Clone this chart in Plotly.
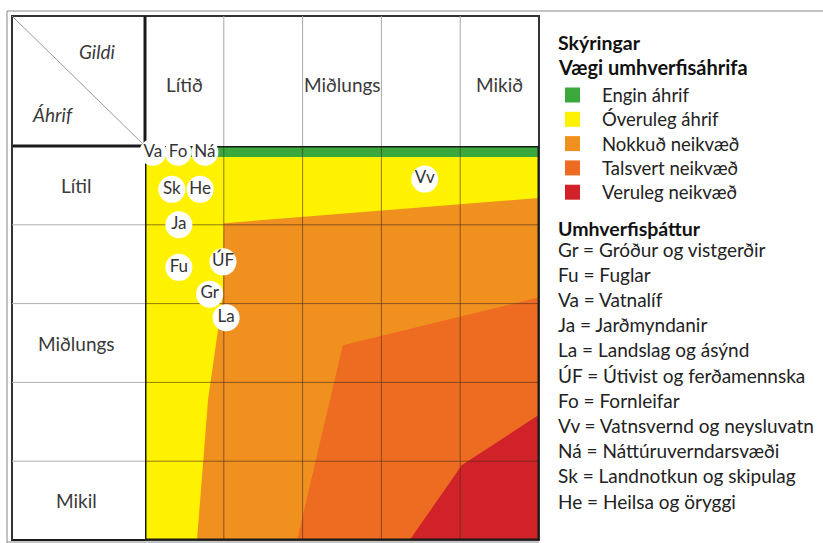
import plotly.graph_objects as go

W, H = 823, 543

# ---------------- data ----------------
gildi_labels = ["Lítið", "", "Miðlungs", "", "Mikið"]      # columns (value)
ahrif_labels = ["Lítil", "", "Miðlungs", "", "Mikil"]      # rows (impact)

factor_codes = ["Va", "Fo", "Ná", "Sk", "He", "Ja", "Fu", "ÚF", "Gr", "La", "Vv"]
factor_gildi = [0.10, 0.42, 0.76, 0.34, 0.70, 0.43, 0.43, 0.99, 0.82, 1.03, 3.55]
factor_ahrif = [0.08, 0.08, 0.08, 0.55, 0.55, 1.00, 1.54, 1.47, 1.88, 2.18, 0.42]

weight_names = ["Engin áhrif", "Óveruleg áhrif", "Nokkuð neikvæð",
                "Talsvert neikvæð", "Veruleg neikvæð"]
weight_colors = ["#3aa83c", "#fff200", "#f0911f", "#ee6b22", "#d12229"]

factor_legend = [
    "Gr = Gróður og vistgerðir",
    "Fu = Fuglar",
    "Va = Vatnalíf",
    "Ja = Jarðmyndanir",
    "La = Landslag og ásýnd",
    "ÚF = Útivist og ferðamennska",
    "Fo = Fornleifar",
    "Vv = Vatnsvernd og neysluvatn",
    "Ná = Náttúruverndarsvæði",
    "Sk = Landnotkun og skipulag",
    "He = Heilsa og öryggi",
]

# zone polygons in grid units (gildi, ahrif)
zone_yellow_x = [0, 5, 5, 0, 0]
zone_yellow_y = [0, 0, 5, 5, 0]
zone_green_x = [0, 5, 5, 0, 0]
zone_green_y = [0, 0, 0.14, 0.14, 0]
zone_orange_x = [1.0, 5, 5, 0.66, 0.80, 0.99, 1.0]
zone_orange_y = [0.98, 0.66, 5, 5, 3.22, 1.89, 0.98]
zone_talsvert_x = [5, 2.51, 1.93, 5, 5]
zone_talsvert_y = [1.92, 2.53, 5, 5, 1.92]
zone_red_x = [5, 4.02, 3.36, 5, 5]
zone_red_y = [3.41, 4.05, 5, 5, 3.41]

# ---------------- layout helpers ----------------
def PX(x):
    return x / W

def PY(y):
    return 1 - y / H

X0, X1, Y0, Y1 = 145, 539, 146, 540   # data area in pixels
TX0, TY0 = 12, 16                      # table top-left
FONT = "Lato"
TXT = "#3a3a3a"

fig = go.Figure()

zones = [
    (zone_yellow_x, zone_yellow_y, weight_colors[1]),
    (zone_green_x, zone_green_y, weight_colors[0]),
    (zone_orange_x, zone_orange_y, weight_colors[2]),
    (zone_talsvert_x, zone_talsvert_y, weight_colors[3]),
    (zone_red_x, zone_red_y, weight_colors[4]),
]
for zx, zy, c in zones:
    fig.add_trace(go.Scatter(x=zx, y=zy, mode="lines", fill="toself",
                             fillcolor=c, line=dict(width=0, color=c),
                             hoverinfo="skip", showlegend=False))

# grid lines inside data area
gx, gy = [], []
for i in range(1, 5):
    gx += [i, i, None]
    gy += [0, 5, None]
    gx += [0, 5, None]
    gy += [i, i, None]
fig.add_trace(go.Scatter(x=gx, y=gy, mode="lines",
                         line=dict(color="rgba(70,45,25,0.6)", width=1),
                         hoverinfo="skip", showlegend=False))

# borders of data area
fig.add_trace(go.Scatter(x=[5, 0, 0, 5, 5], y=[0, 0, 5, 5, 0], mode="lines",
                         line=dict(color="#1a1a1a", width=3),
                         cliponaxis=False, hoverinfo="skip", showlegend=False))

# factor labels
fig.add_trace(go.Scatter(
    x=factor_gildi, y=factor_ahrif, mode="markers+text", text=factor_codes,
    textposition="middle center",
    textfont=dict(family=FONT, size=17, color="#333333"),
    marker=dict(size=27, color="white", line=dict(width=0)),
    cliponaxis=False, hoverinfo="skip", showlegend=False))

shapes = []
# outer frame (double line)
shapes.append(dict(type="line", xref="paper", yref="paper",
                   x0=PX(7), x1=PX(W + 5), y0=PY(11), y1=PY(11),
                   line=dict(color="#888888", width=1)))
shapes.append(dict(type="line", xref="paper", yref="paper",
                   x0=PX(7), x1=PX(7), y0=PY(11), y1=PY(H + 5),
                   line=dict(color="#888888", width=1)))
shapes.append(dict(type="line", xref="paper", yref="paper",
                   x0=PX(7), x1=PX(X1), y0=PY(542), y1=PY(542),
                   line=dict(color="#888888", width=1)))
# table box
shapes.append(dict(type="rect", xref="paper", yref="paper",
                   x0=PX(TX0), x1=PX(X1), y0=PY(Y1), y1=PY(TY0),
                   line=dict(color="#333333", width=2), layer="below"))
# header separators (thick)
shapes.append(dict(type="line", xref="paper", yref="paper",
                   x0=PX(X0), x1=PX(X0), y0=PY(TY0), y1=PY(Y0),
                   line=dict(color="#1a1a1a", width=3), layer="below"))
shapes.append(dict(type="line", xref="paper", yref="paper",
                   x0=PX(TX0), x1=PX(X0), y0=PY(Y0), y1=PY(Y0),
                   line=dict(color="#1a1a1a", width=3), layer="below"))
shapes.append(dict(type="line", xref="paper", yref="paper",
                   x0=PX(TX0), x1=PX(X0), y0=PY(Y1), y1=PY(Y1),
                   line=dict(color="#1a1a1a", width=2), layer="below"))
shapes.append(dict(type="line", xref="paper", yref="paper",
                   x0=PX(TX0), x1=PX(TX0), y0=PY(Y1), y1=PY(TY0),
                   line=dict(color="#333333", width=2), layer="below"))
# diagonal in corner cell
shapes.append(dict(type="line", xref="paper", yref="paper",
                   x0=PX(TX0), x1=PX(X0), y0=PY(TY0), y1=PY(Y0),
                   line=dict(color="#9a9a9a", width=1), layer="below"))
# header column lines and row-label lines (thin gray)
for i in range(1, 5):
    shapes.append(dict(type="line", xref="x", yref="paper",
                       x0=i, x1=i, y0=PY(Y0), y1=PY(TY0),
                       line=dict(color="#a8a8a8", width=1), layer="below"))
    shapes.append(dict(type="line", xref="paper", yref="y",
                       x0=PX(TX0), x1=PX(X0), y0=i, y1=i,
                       line=dict(color="#b0b0b0", width=1), layer="below"))

annotations = []

def ann(x, y, text, size, color=TXT, xref="paper", yref="paper",
        xanchor="center"):
    annotations.append(dict(x=x, y=y, xref=xref, yref=yref, text=text,
                            xanchor=xanchor, yanchor="middle",
                            showarrow=False,
                            font=dict(family=FONT, size=size, color=color)))

for i, lab in enumerate(gildi_labels):
    if lab:
        ann(i + 0.5, PY(84), lab, 19, xref="x")
for i, lab in enumerate(ahrif_labels):
    if lab:
        ann(PX(76), i + 0.5, lab, 19, yref="y")
ann(PX(97), PY(52), "<i>Gildi</i>", 19)
ann(PX(53), PY(114), "<i>Áhrif</i>", 19)

# legend
LX = 556
ann(PX(LX), PY(42), "<b>Skýringar</b>", 19.5, "#111111", xanchor="left")
ann(PX(LX), PY(67), "<b>Vægi umhverfisáhrifa</b>", 20, "#111111",
    xanchor="left")
for k, (name, col) in enumerate(zip(weight_names, weight_colors)):
    yc = 95 + k * 24.3
    shapes.append(dict(type="rect", xref="paper", yref="paper",
                       x0=PX(565), x1=PX(580), y0=PY(yc + 7.5), y1=PY(yc - 7.5),
                       fillcolor=col, line=dict(width=0)))
    ann(PX(600), PY(yc), name, 18.5, "#222222", xanchor="left")
ann(PX(LX), PY(228), "<b>Umhverfisþáttur</b>", 19.5, "#111111", xanchor="left")
for k, line in enumerate(factor_legend):
    ann(PX(LX), PY(249 + k * 25.2), line, 19, "#222222", xanchor="left")

fig.update_layout(
    width=W, height=H,
    margin=dict(l=0, r=0, t=0, b=0),
    paper_bgcolor="white", plot_bgcolor="white",
    xaxis=dict(domain=[PX(X0), PX(X1)], range=[0, 5], visible=False,
               fixedrange=True),
    yaxis=dict(domain=[PY(Y1), PY(Y0)], range=[5, 0], visible=False,
               fixedrange=True),
    shapes=shapes, annotations=annotations, showlegend=False,
)

fig.write_html("out.html",
               config={"displayModeBar": False},
               post_script="document.body.style.margin='0px';"
                           "document.body.style.overflow='hidden';")
